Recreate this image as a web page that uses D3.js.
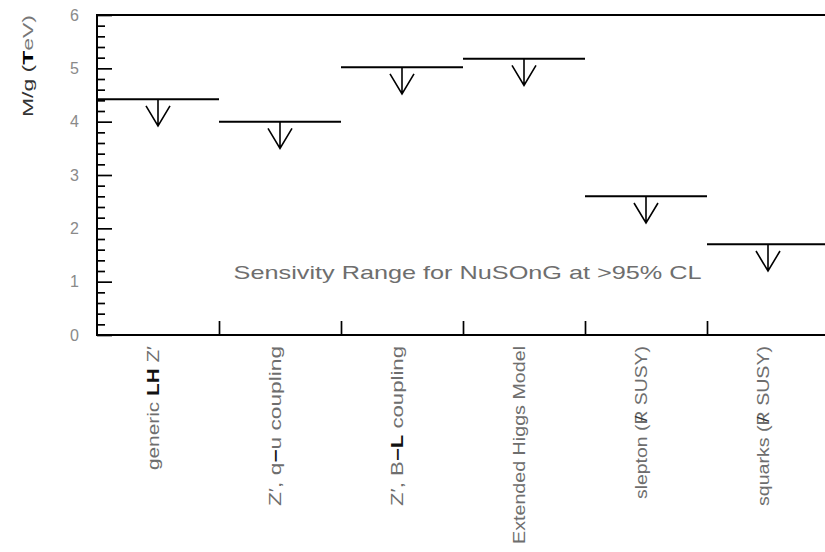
<!DOCTYPE html>
<html>
<head>
<meta charset="utf-8">
<script src="https://cdn.jsdelivr.net/npm/d3@7"></script>
<style>
  html, body { margin: 0; padding: 0; background: #fff; }
  svg { display: block; }
  text { font-family: "Liberation Sans", Arial, Helvetica, sans-serif; }
</style>
</head>
<body>
<div id="chart"></div>
<script>
// ---- data ----
const categories = [
  "generic LH Z′",
  "Z′, q−u coupling",
  "Z′, B−L coupling",
  "Extended Higgs Model",
  "slepton (R̸ SUSY)",
  "squarks (R̸ SUSY)"
];
// rich-text pieces for labels: [text, style]  (b = bold, o = slash overlay on previous letter)
const labelParts = [
  [["generic ", ""], ["LH", "b"], [" Z′", ""]],
  [["Z′, q", ""], ["−", "b"], ["u coupling", ""]],
  [["Z′, B", ""], ["−L", "b"], [" coupling", ""]],
  [["Extended Higgs Model", ""]],
  [["slepton (R", ""], ["/", "o"], [" SUSY)", "a"]],
  [["squarks (R", ""], ["/", "o"], [" SUSY)", "a"]]
];
const limits = [4.42, 4.0, 5.02, 5.18, 2.6, 1.7];   // M/g upper limits (TeV)
const yTicks = [0, 1, 2, 3, 4, 5, 6];
const annotation = "Sensivity Range for NuSOnG at >95% CL";
const yLabel = "M/g";

// ---- layout ----
const W = 825, H = 552;
const mLeft = 97, mTop = 15, mBottom = 335;
const catWidth = 122;
const mRight = mLeft + catWidth * categories.length;

const svg = d3.select("#chart").append("svg")
  .attr("width", W).attr("height", H);

const y = d3.scaleLinear().domain([0, 6]).range([mBottom, mTop]);
const x = d3.scaleBand().domain(categories).range([mLeft, mRight]).padding(0);
const xb = d3.scaleLinear().domain([0, categories.length]).range([mLeft, mRight]);

// minor ticks on left axis
const minorVals = d3.range(0, 6.0001, 0.2).filter(v => Math.abs(v - Math.round(v)) > 1e-6);
svg.append("g").attr("transform", `translate(${mLeft},0)`)
  .call(d3.axisLeft(y).tickValues(minorVals).tickSize(-8).tickFormat(""))
  .call(g => g.select(".domain").remove())
  .call(g => g.selectAll("line").attr("stroke", "#000").attr("stroke-width", 1.7));

// major ticks + labels
svg.append("g").attr("transform", `translate(${mLeft},0)`)
  .call(d3.axisLeft(y).tickValues(yTicks).tickSize(-15).tickPadding(18).tickFormat(d3.format("d")))
  .call(g => g.select(".domain").remove())
  .call(g => g.selectAll("line").attr("stroke", "#000").attr("stroke-width", 1.7))
  .call(g => g.selectAll("text").attr("fill", "#8a8a8a").attr("font-size", 16)
    .attr("font-family", "Liberation Sans, Arial, sans-serif"));

// bottom category divider ticks
svg.append("g").attr("transform", `translate(0,${mBottom})`)
  .call(d3.axisBottom(xb).tickValues(d3.range(1, categories.length)).tickSize(-14).tickFormat(""))
  .call(g => g.select(".domain").remove())
  .call(g => g.selectAll("line").attr("stroke", "#000").attr("stroke-width", 1.7));

// frame: left, bottom, top
svg.append("path")
  .attr("d", `M${mRight},${mTop}H${mLeft}V${mBottom}H${mRight}`)
  .attr("fill", "none").attr("stroke", "#000").attr("stroke-width", 2);

// limit lines
svg.selectAll("line.limit").data(categories).enter().append("line")
  .attr("class", "limit")
  .attr("x1", d => x(d)).attr("x2", d => x(d) + x.bandwidth())
  .attr("y1", (d, i) => y(limits[i])).attr("y2", (d, i) => y(limits[i]))
  .attr("stroke", "#000").attr("stroke-width", 2);

// arrows
const arrowLen = 0.5;
svg.selectAll("path.arrow").data(categories).enter().append("path")
  .attr("class", "arrow")
  .attr("d", (d, i) => {
    const cx = x(d) + x.bandwidth() / 2;
    const y0 = y(limits[i]);
    const y1 = y(limits[i] - arrowLen);
    return `M${cx},${y0}V${y1}M${cx - 12},${y1 - 20}L${cx},${y1}L${cx + 12},${y1 - 20}`;
  })
  .attr("fill", "none").attr("stroke", "#000").attr("stroke-width", 1.6);

// category labels (rotated)
const labelLens = [124, 160, 160, 198, 153, 160];
categories.forEach((c, i) => {
  const cx = x(c) + x.bandwidth() / 2 - 5;
  const t = svg.append("text")
    .attr("transform", `translate(${cx},${mBottom + 11}) rotate(-90)`)
    .attr("text-anchor", "end")
    .attr("dy", "0.35em")
    .attr("font-size", 16)
    .attr("fill", "#6e6e6e")
    .attr("textLength", labelLens[i])
    .attr("lengthAdjust", "spacingAndGlyphs");
  labelParts[i].forEach(([s, st]) => {
    const sp = t.append("tspan").text(s);
    if (st === "b") sp.attr("font-weight", "bold").attr("fill", "#111");
    if (st === "o") sp.attr("dx", "-0.55em").attr("fill", "#333");
    if (st === "a") sp.attr("dx", "0.27em");
  });
});

// y axis label
const yl = svg.append("text")
  .attr("transform", `translate(28,${mTop + 51}) rotate(-90)`)
  .attr("text-anchor", "middle")
  .attr("dy", "0.35em")
  .attr("font-size", 14)
  .attr("fill", "#333")
  .attr("textLength", 102)
  .attr("lengthAdjust", "spacingAndGlyphs");
yl.append("tspan").text(yLabel + "  (");
yl.append("tspan").text("T").attr("font-weight", "bold").attr("fill", "#000");
yl.append("tspan").text("eV)").attr("fill", "#777");

// annotation
svg.append("text")
  .attr("x", xb(1.12)).attr("y", y(1.05))
  .attr("text-anchor", "start")
  .attr("font-size", 19)
  .attr("fill", "#6e6e6e")
  .attr("textLength", 468)
  .attr("lengthAdjust", "spacingAndGlyphs")
  .text(annotation);
</script>
</body>
</html>
